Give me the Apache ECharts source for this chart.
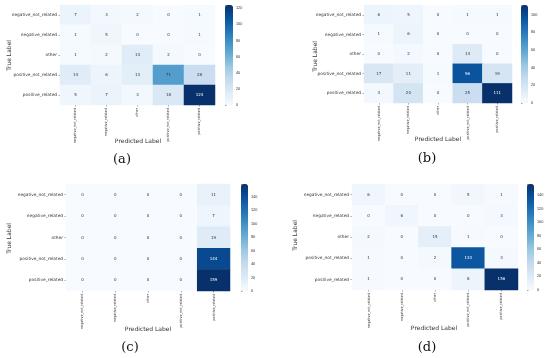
<!DOCTYPE html>
<html><head><meta charset="utf-8">
<script src="https://cdn.jsdelivr.net/npm/echarts@6/dist/echarts.min.js"></script>
<style>html,body{margin:0;padding:0;background:#fff}#c{width:550px;height:358px}</style>
</head><body><div id="c"></div>
<script>
const classes = ['negative_not_related','negative_related','other','positive_not_related','positive_related'];
const panelA = [[7,3,2,0,1],[1,5,0,0,1],[1,2,14,2,0],[14,6,13,71,28],[5,7,3,18,124]];
const panelB = [[6,5,0,1,1],[1,6,0,0,0],[0,2,0,14,0],[17,11,1,96,19],[3,20,0,25,111]];
const panelC = [[0,0,0,0,11],[0,0,0,0,7],[0,0,0,0,19],[0,0,0,0,144],[0,0,0,0,159]];
const panelD = [[6,0,0,5,1],[0,6,0,0,3],[2,0,15,1,0],[1,0,2,133,3],[1,0,0,8,156]];
const panelTags = ['(a)','(b)','(c)','(d)'];
const colorTicks = [0,20,40,60,80,100,120,140];

const panels = [panelA,panelB,panelC,panelD];
const blues = ['#f7fbff','#deebf7','#c6dbef','#9ecae1','#6baed6','#4292c6','#2171b5','#08519c','#08306b'];
const layout = [
  {g:[60,5,155,100], cb:[225,5,8,100], tl:[6,55], pl:[138,141], tag:[122,160]},
  {g:[364,5,148,98], cb:[521,5,7,98], tl:[312,56], pl:[438,139], tag:[427,159]},
  {g:[66,184,164,107], cb:[241,184,7,107], tl:[6,238], pl:[148,329], tag:[130,348]},
  {g:[352,184,166,106], cb:[527,184,7,106], tl:[292,235], pl:[434,328], tag:[427,348]}
];
const grid=[], xAxis=[], yAxis=[], series=[], visualMap=[], graphic=[];
panels.forEach((m,i)=>{
  const L = layout[i];
  const mx = Math.max(...m.flat());
  grid.push({left:L.g[0], top:L.g[1], width:L.g[2], height:L.g[3]});
  grid.push({left:L.cb[0], top:L.cb[1], width:L.cb[2], height:L.cb[3]});
  xAxis.push({type:'category', gridIndex:2*i, data:classes, axisLine:{show:false},
    axisTick:{show:true, length:1.5, lineStyle:{color:'#444', width:0.5}, alignWithLabel:true},
    axisLabel:{rotate:90, fontSize:3.7, color:'#333', margin:3, fontFamily:'DejaVu Sans Condensed'}, splitLine:{show:false}});
  yAxis.push({type:'category', gridIndex:2*i, data:classes, inverse:true, axisLine:{show:false},
    axisTick:{show:true, length:1.5, lineStyle:{color:'#444', width:0.5}, alignWithLabel:true},
    axisLabel:{fontSize:4.3, color:'#333', margin:3, fontFamily:'DejaVu Sans'}, splitLine:{show:false}});
  xAxis.push({type:'value', gridIndex:2*i+1, show:false, min:0, max:1});
  yAxis.push({type:'value', gridIndex:2*i+1, min:0, max:mx, interval:20, position:'right',
    axisLine:{show:false}, splitLine:{show:false},
    axisTick:{show:true, length:1.5, lineStyle:{color:'#444', width:0.5}},
    axisLabel:{fontSize:3.8, color:'#333', margin:3,
      formatter:v=>colorTicks.includes(v)?String(v):''}});
  const data=[];
  m.forEach((row,r)=>row.forEach((v,c)=>{
    data.push({value:[c,r,v], label:{color: v>mx*0.6?'#fff':'#333'}});
  }));
  series.push({type:'heatmap', xAxisIndex:2*i, yAxisIndex:2*i, data,
    label:{show:true, fontSize:4, fontFamily:'DejaVu Sans', formatter:p=>String(p.value[2])},
    emphasis:{disabled:true}});
  visualMap.push({type:'continuous', seriesIndex:i, min:0, max:mx, calculable:false,
    orient:'vertical', left:L.cb[0], top:L.cb[1], itemWidth:L.cb[2], itemHeight:L.cb[3],
    padding:0, text:null, showLabel:false, hoverLink:false, inRange:{color:blues}});
  graphic.push({type:'text', left:L.tl[0], top:L.tl[1]-15, rotation:Math.PI/2,
    style:{text:'True Label', fontSize:6, fill:'#333', fontFamily:'DejaVu Sans'}});
  graphic.push({type:'text', x:L.pl[0], y:L.pl[1], style:{text:'Predicted Label', fontSize:6, fill:'#333',
    fontFamily:'DejaVu Sans', align:'center', verticalAlign:'middle'}});
  graphic.push({type:'text', x:L.tag[0], y:L.tag[1], style:{text:panelTags[i], fontSize:13, fill:'#111',
    fontFamily:'DejaVu Serif', align:'center', verticalAlign:'middle'}});
});
const chart = echarts.init(document.getElementById('c'), null, {renderer:'canvas'});
chart.setOption({animation:false, grid, xAxis, yAxis, series, visualMap, graphic});
</script></body></html>
